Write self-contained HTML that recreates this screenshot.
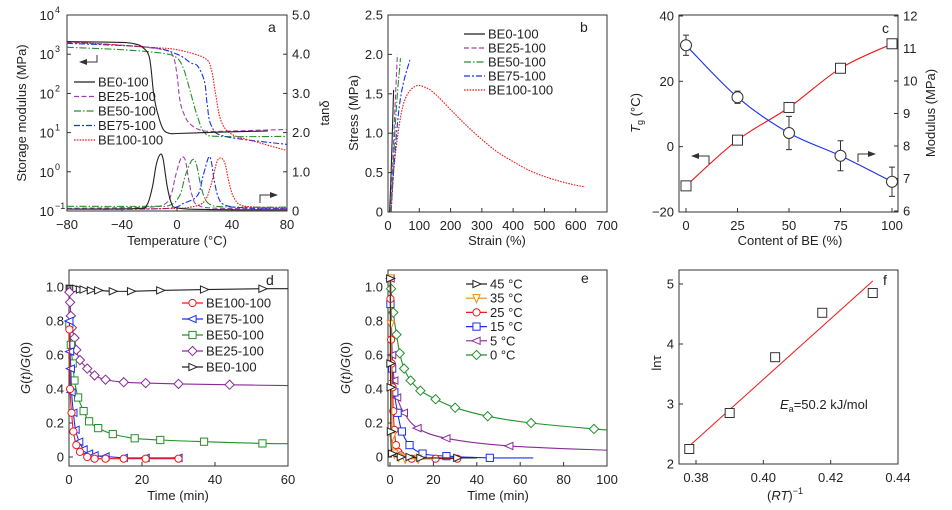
<!DOCTYPE html>
<html><head><meta charset="utf-8">
<style>
html,body{margin:0;padding:0;background:#fff;}
svg{display:block;font-family:"Liberation Sans",sans-serif;}
text{fill:#222;}
</style></head>
<body>
<svg id="fig" width="952" height="510" viewBox="0 0 952 510" xmlns="http://www.w3.org/2000/svg"></svg>
<script>
// ---------- Panel a data ----------
const aTemps = [-80,-40,-30,-25,-20,-17,-14,-10,-5,0,20,40,66];
const aBE0 = [2100,2000,1800,1500,800,100,30,12,9.5,9.5,10,10.5,11];
const aBE25T = [-80,-40,-10,-3,0,2,5,10,20,40,60,80];
const aBE25 = [2000,1700,1300,900,300,70,30,16,11,11,11.5,12];
const aBE50T = [-80,-40,-10,0,5,10,15,20,30,80];
const aBE50 = [1500,1300,1050,800,400,100,25,10,8,8];
const aBE75T = [-80,-20,0,10,15,20,22,25,35,80];
const aBE75 = [1900,1500,1000,600,500,200,50,15,8,5];
const aBE100T = [-80,-20,0,20,25,28,32,40,60,80];
const aBE100 = [2100,1500,1300,800,400,100,20,9,5.5,3.5];
const tanBE0T = [-80,-30,-22,-18,-15,-12,-10,-7,-4,0,20,80];
const tanBE0 = [0.05,0.06,0.15,0.6,1.2,1.45,1.3,0.6,0.2,0.08,0.04,0.03];
const tanBE25T = [-80,-20,-8,-4,-1,3,6,8,11,15,30,80];
const tanBE25 = [0.07,0.1,0.2,0.45,0.9,1.35,1.3,0.9,0.4,0.15,0.07,0.06];
const tanBE50T = [-80,-20,-5,2,6,11,14,17,20,25,40,80];
const tanBE50 = [0.12,0.12,0.15,0.4,0.9,1.3,1.2,0.7,0.35,0.15,0.1,0.1];
const tanBE75T = [-80,-10,5,15,19,23,25,27,30,35,50,80];
const tanBE75 = [0.05,0.06,0.2,0.4,0.9,1.37,1.25,0.8,0.35,0.15,0.08,0.07];
const tanBE100T = [-80,-10,10,20,25,29,32,35,38,42,50,80];
const tanBE100 = [0.05,0.06,0.1,0.25,0.7,1.25,1.35,1.2,0.7,0.3,0.12,0.08];
// ---------- Panel b data ----------
const bBE0S = [5,10,18]; const bBE0 = [0,0.5,1.55];
const bBE25S = [8,15,22,30]; const bBE25 = [0,0.6,1.3,2.0];
const bBE50S = [10,18,28,40]; const bBE50 = [0,0.7,1.4,1.95];
const bBE75S = [10,20,35,50,70]; const bBE75 = [0,0.65,1.3,1.65,1.93];
const bBE100S = [10,20,40,60,90,120,150,200,250,300,350,400,450,500,550,600,630];
const bBE100 = [0,0.6,1.2,1.48,1.6,1.58,1.5,1.3,1.1,0.92,0.76,0.64,0.53,0.45,0.39,0.34,0.32];
// ---------- Panel c data ----------
const cContent = [0,25,50,75,100];
const cTg = [-12,2,12,24,31.5];
const cModulus = [11.1,9.5,8.4,7.7,6.9];
const cModErr = [0.31,0.19,0.51,0.46,0.45];
// ---------- Panel d data ----------
const dBE0T = [0.2,0.5,1,1.5,2,3,4,6,8,12,17,25,37,53];
const dBE0 = [0.99,0.99,0.99,0.99,0.99,0.985,0.985,0.98,0.98,0.975,0.975,0.98,0.985,0.99];
const dBE25T = [0.1,0.3,0.5,0.8,1.5,2,3,5,7,10,15,21,30,44];
const dBE25 = [0.97,0.91,0.83,0.76,0.70,0.63,0.57,0.52,0.48,0.455,0.44,0.435,0.43,0.425];
const dBE50T = [0.1,0.5,1,1.5,2.5,4,5.5,8,12,18,25,37,53];
const dBE50 = [0.78,0.66,0.55,0.45,0.35,0.27,0.21,0.17,0.135,0.11,0.1,0.09,0.08];
const dBE75T = [0.1,0.3,0.5,0.7,1.2,1.8,2.8,4,5.5,7,10,15,21,30];
const dBE75 = [0.8,0.62,0.52,0.38,0.26,0.16,0.09,0.045,0.02,0.01,0.003,-0.005,-0.005,-0.005];
const dBE100T = [0.1,0.3,0.7,1.2,2,3,5,7,10,15,21,30];
const dBE100 = [0.75,0.4,0.26,0.15,0.07,0.03,0,-0.01,-0.01,-0.01,-0.01,-0.01];
// ---------- Panel e data ----------
const e0T = [0.5,1.5,3,4.5,6.5,9.5,14,21,30,45,65,94];
const e0 = [0.99,0.85,0.72,0.61,0.52,0.45,0.39,0.34,0.29,0.24,0.2,0.165];
const e5T = [0.3,1,2,3.3,6.4,12.7,26,55];
const e5 = [1.05,0.6,0.45,0.35,0.26,0.17,0.11,0.065];
const e15T = [0.2,1,2,3.5,5.5,9,15,26,46];
const e15 = [0.9,0.52,0.38,0.26,0.15,0.07,0.02,0.005,-0.005];
const e25T = [0.2,0.5,0.8,1.2,1.5,2,2.8,3.8,5,10,21,31];
const e25 = [0.93,0.69,0.55,0.41,0.27,0.16,0.07,0.03,0.01,-0.01,-0.01,-0.01];
const e35T = [0.2,0.4,1,2,4,7,13];
const e35 = [1.05,0.78,0.12,0.02,0,-0.01,-0.01];
const e45T = [0.1,0.2,0.3,0.4,1,5,9,14,31];
const e45 = [1.05,0.55,0.41,0.15,0.02,0,0,-0.005,-0.005];
// ---------- Panel f data ----------
const fX = [0.378,0.390,0.4035,0.4175,0.4325];
const fY = [2.25,2.85,3.78,4.52,4.85];
const fFitX = [0.378,0.4325];
const fFitY = [2.3,5.05];

const NS = "http://www.w3.org/2000/svg";
const svg = document.getElementById('fig');
function mk(tag, attrs, parent){
  const e = document.createElementNS(NS, tag);
  for (const k in attrs) e.setAttribute(k, attrs[k]);
  (parent||svg).appendChild(e);
  return e;
}
function smooth(pts){
  if (pts.length < 3) return 'M' + pts.map(p=>p[0].toFixed(1)+','+p[1].toFixed(1)).join(' L');
  let d = 'M'+pts[0][0].toFixed(1)+','+pts[0][1].toFixed(1);
  for (let i=0;i<pts.length-1;i++){
    const p0=pts[Math.max(0,i-1)], p1=pts[i], p2=pts[i+1], p3=pts[Math.min(pts.length-1,i+2)];
    const c1=[p1[0]+(p2[0]-p0[0])/6, p1[1]+(p2[1]-p0[1])/6];
    const c2=[p2[0]-(p3[0]-p1[0])/6, p2[1]-(p3[1]-p1[1])/6];
    d+=' C'+c1[0].toFixed(1)+','+c1[1].toFixed(1)+' '+c2[0].toFixed(1)+','+c2[1].toFixed(1)+' '+p2[0].toFixed(1)+','+p2[1].toFixed(1);
  }
  return d;
}
function txt(x,y,s,opts,name){
  const t = mk('text', Object.assign({x:x,y:y,'font-size':13},opts||{}));
  t.textContent = s;
  
  
  return t;
}
function frame(x0,y0,x1,y1,name){
  const r = mk('rect',{x:x0,y:y0,width:x1-x0,height:y1-y0,fill:'none',stroke:'#333','stroke-width':1});
  
  
}
function xTicks(vals, fx, yb, labels){
  vals.forEach((v,i)=>{
    const x=fx(v);
    const l = mk('line',{x1:x,x2:x,y1:yb,y2:yb-4,stroke:'#333'});
    
    
    txt(x, yb+18, labels[i], {'text-anchor':'middle'}, 'x-tick-label');
  });
}
function yTicks(vals, fy, xl, labels, right){
  vals.forEach((v,i)=>{
    const y=fy(v);
    const l = mk('line',{x1:xl,x2:right?xl-4:xl+4,y1:y,y2:y,stroke:'#333'});
    
    
    txt(right?xl+5:xl-5, y+4.5, labels[i], {'text-anchor':right?'start':'end'}, 'y-tick-label');
  });
}
function series(xs, ys, fx, fy, color, dash, name){
  const pts = xs.map((x,i)=>[fx(x), fy(ys[i])]);
  const p = mk('path',{d:smooth(pts),fill:'none',stroke:color,'stroke-width':1.1,'stroke-dasharray':dash||'none'});
  
  
  return pts;
}
function marker(shape,x,y,color,g){
  const s=3.6; let m;
  if (shape==='circle') m=mk('circle',{cx:x,cy:y,r:s,fill:'#fff',stroke:color,'stroke-width':1},g);
  else if (shape==='square') m=mk('rect',{x:x-s,y:y-s,width:2*s,height:2*s,fill:'#fff',stroke:color,'stroke-width':1},g);
  else if (shape==='diamond') m=mk('polygon',{points:`${x},${y-s-1} ${x+s+1},${y} ${x},${y+s+1} ${x-s-1},${y}`,fill:'#fff',stroke:color,'stroke-width':1},g);
  else if (shape==='right') m=mk('polygon',{points:`${x-s},${y-s} ${x+s+1},${y} ${x-s},${y+s}`,fill:'#fff',stroke:color,'stroke-width':1},g);
  else if (shape==='left') m=mk('polygon',{points:`${x+s},${y-s} ${x-s-1},${y} ${x+s},${y+s}`,fill:'#fff',stroke:color,'stroke-width':1},g);
  else m=mk('polygon',{points:`${x-s},${y-s} ${x+s},${y-s} ${x},${y+s+1}`,fill:'#fff',stroke:color,'stroke-width':1},g);
  
  
}
function legendLine(x,y,color,dash,label,shape){
  const l=mk('line',{x1:x,x2:x+21,y1:y,y2:y,stroke:color,'stroke-width':1.2,'stroke-dasharray':dash||'none'});
  
  
  if (shape) marker(shape,x+10.5,y,color);
  txt(x+24,y+4.5,label,{},'legend-entry');
}
function arrow(pts,tip,dir){
  const p=mk('polyline',{points:pts.map(q=>q.join(',')).join(' '),fill:'none',stroke:'#333','stroke-width':1});
  
  
  const [x,y]=tip; const d=dir;
  const h=mk('polygon',{points:`${x},${y} ${x-8*d},${y-3} ${x-8*d},${y+3}`,fill:'#333'});
  
  
}
function gLabel(x,y){
  const t=txt(0,0,'',{'text-anchor':'middle',transform:`translate(${x},${y}) rotate(-90)`},'y-axis-title');
  const a=mk('tspan',{'font-style':'italic'},t); a.textContent='G';
  const b=mk('tspan',{},t); b.textContent='(';
  const c=mk('tspan',{'font-style':'italic'},t); c.textContent='t';
  const d=mk('tspan',{},t); d.textContent=')/';
  const e=mk('tspan',{'font-style':'italic'},t); e.textContent='G';
  const f=mk('tspan',{},t); f.textContent='(0)';
}
const COLORS={BE0:'#222',BE25:'#a040b0',BE50:'#22912a',BE75:'#1a30f0',BE100:'#f01818'};
const DASH={BE0:'none',BE25:'5,2.5',BE50:'7,2,1.5,2',BE75:'6,2,2,2',BE100:'1.6,1.2'};

// ===== Panel a =====
(function(){
  const ax=t=>67+(t+80)*220/160;
  const ay=v=>211-(Math.log10(v)+1)*39.2;
  const ty=v=>211-v*39.2;
  frame(67,15,287,211,'panel-a-frame');
  xTicks([-80,-40,0,40,80],ax,211,['\u221280','\u221240','0','40','80']);
  [-1,0,1,2,3,4].forEach(e=>{
    const y=ay(Math.pow(10,e));
    const l=mk('line',{x1:67,x2:71,y1:y,y2:y,stroke:'#333'});
    
    
    txt(54,y+5,'10',{'text-anchor':'end'},'y-tick-label');
    txt(55,y-2,e<0?'\u22121':String(e),{'font-size':9},'y-tick-exponent');
  });
  yTicks([0,1,2,3,4,5],ty,287,['0','1.0','2.0','3.0','4.0','5.0'],true);
  txt(177,245,'Temperature (\u00B0C)',{'text-anchor':'middle'},'x-axis-title');
  txt(0,0,'Storage modulus (MPa)',{'text-anchor':'middle',transform:'translate(26,113) rotate(-90)'},'y-axis-title');
  txt(0,0,'tan\u03B4',{'text-anchor':'middle',transform:'translate(329,113) rotate(-90)'},'y2-axis-title');
  txt(268,32,'a',{'font-size':14},'panel-label-a');
  series(aBE25T,aBE25,ax,ay,COLORS.BE25,DASH.BE25,'storage-be25');
  series(aBE50T,aBE50,ax,ay,COLORS.BE50,DASH.BE50,'storage-be50');
  series(aBE75T,aBE75,ax,ay,COLORS.BE75,DASH.BE75,'storage-be75');
  series(aBE100T,aBE100,ax,ay,COLORS.BE100,DASH.BE100,'storage-be100');
  series(aTemps,aBE0,ax,ay,COLORS.BE0,DASH.BE0,'storage-be0');
  series(tanBE25T,tanBE25,ax,ty,COLORS.BE25,DASH.BE25,'tan-be25');
  series(tanBE50T,tanBE50,ax,ty,COLORS.BE50,DASH.BE50,'tan-be50');
  series(tanBE75T,tanBE75,ax,ty,COLORS.BE75,DASH.BE75,'tan-be75');
  series(tanBE100T,tanBE100,ax,ty,COLORS.BE100,DASH.BE100,'tan-be100');
  series(tanBE0T,tanBE0,ax,ty,COLORS.BE0,DASH.BE0,'tan-be0');
  const names=['BE0-100','BE25-100','BE50-100','BE75-100','BE100-100'];
  ['BE0','BE25','BE50','BE75','BE100'].forEach((k,i)=>legendLine(74,82+i*14.5,COLORS[k],DASH[k],names[i]));
  arrow([[97,55],[97,62],[80,62]],[79,62],-1);
  arrow([[260,203],[260,195],[276,195]],[278,195],1);
})();

// ===== Panel b =====
(function(){
  const bx=s=>388+s*219/700;
  const by=v=>212-v*78.8;
  frame(388,15,607,212,'panel-b-frame');
  xTicks([0,100,200,300,400,500,600,700],bx,212,['0','100','200','300','400','500','600','700']);
  yTicks([0,0.5,1,1.5,2,2.5],by,388,['0','0.5','1.0','1.5','2.0','2.5']);
  txt(497,245,'Strain (%)',{'text-anchor':'middle'},'x-axis-title');
  txt(0,0,'Stress (MPa)',{'text-anchor':'middle',transform:'translate(358,113) rotate(-90)'},'y-axis-title');
  txt(580,32,'b',{'font-size':14},'panel-label-b');
  series(bBE100S,bBE100,bx,by,COLORS.BE100,DASH.BE100,'stress-be100');
  series(bBE75S,bBE75,bx,by,COLORS.BE75,DASH.BE75,'stress-be75');
  series(bBE50S,bBE50,bx,by,COLORS.BE50,DASH.BE50,'stress-be50');
  series(bBE25S,bBE25,bx,by,COLORS.BE25,DASH.BE25,'stress-be25');
  series(bBE0S,bBE0,bx,by,COLORS.BE0,DASH.BE0,'stress-be0');
  const names=['BE0-100','BE25-100','BE50-100','BE75-100','BE100-100'];
  ['BE0','BE25','BE50','BE75','BE100'].forEach((k,i)=>legendLine(464,34+i*14,COLORS[k],DASH[k],names[i]));
})();

// ===== Panel c =====
(function(){
  const cx=v=>686+v*2.06;
  const cy=v=>212-(v+20)*196/60;
  const my=v=>211-(v-6)*195/6;
  frame(679,15,898,212,'panel-c-frame');
  xTicks([0,25,50,75,100],cx,212,['0','25','50','75','100']);
  yTicks([-20,0,20,40],cy,679,['\u221220','0','20','40']);
  yTicks([6,7,8,9,10,11,12],my,898,['6','7','8','9','10','11','12'],true);
  txt(790,245,'Content of BE (%)',{'text-anchor':'middle'},'x-axis-title');
  const t=txt(0,0,'',{'text-anchor':'middle',transform:'translate(640,113) rotate(-90)'},'y-axis-title');
  const t1=mk('tspan',{'font-style':'italic'},t); t1.textContent='T';
  const t2=mk('tspan',{'font-size':9,dy:3},t); t2.textContent='g';
  const t3=mk('tspan',{dy:-3},t); t3.textContent=' (\u00B0C)';
  txt(0,0,'Modulus (MPa)',{'text-anchor':'middle',transform:'translate(935,113) rotate(-90)'},'y2-axis-title');
  txt(882,33,'c',{'font-size':14},'panel-label-c');
  series(cContent,cTg,cx,cy,'#f01818','none','tg-curve');
  series(cContent,cModulus,cx,my,'#1a30f0','none','modulus-curve');
  cContent.forEach((c,i)=>{
    const x=cx(c), y1=my(cModulus[i]+cModErr[i]), y2=my(cModulus[i]-cModErr[i]);
    const e=mk('path',{d:`M${x},${y1} V${y2} M${x-3},${y1} H${x+3} M${x-3},${y2} H${x+3}`,stroke:'#333',fill:'none'});
    
    
  });
  cContent.forEach((c,i)=>{
    const m=mk('rect',{x:cx(c)-5,y:cy(cTg[i])-5,width:10,height:10,fill:'#fff',stroke:'#333'});
    
    
    const o=mk('circle',{cx:cx(c),cy:my(cModulus[i]),r:5.5,fill:'#fff',stroke:'#333'});
    
    
  });
  arrow([[709,164],[709,156],[693,156]],[691,156],-1);
  arrow([[858,162],[858,154],[874,154]],[876,154],1);
})();

// ===== Panel d =====
(function(){
  const dx=t=>69+t*219/60;
  const dy=v=>457-v*170;
  frame(69,270,288,466,'panel-d-frame');
  xTicks([0,20,40,60],dx,466,['0','20','40','60']);
  yTicks([0,0.2,0.4,0.6,0.8,1.0],dy,69,['0','0.2','0.4','0.6','0.8','1.0']);
  txt(178,500,'Time (min)',{'text-anchor':'middle'},'x-axis-title');
  gLabel(30,368);
  txt(266,285,'d',{'font-size':14},'panel-label-d');
  const S=[[dBE0T,dBE0,'#222','right','BE0',60,0.99],[dBE25T,dBE25,'#8a2a9a','diamond','BE25',60,0.42],[dBE50T,dBE50,'#22912a','square','BE50',60,0.078],[dBE75T,dBE75,'#1a30f0','left','BE75',null],[dBE100T,dBE100,'#f01818','circle','BE100',null]];
  S.forEach(s=>{
    const xs=s[0].slice(), ys=s[1].slice();
    if (s[5]!==null){xs.push(s[5]);ys.push(s[6]);}
    series(xs,ys,dx,dy,s[2],'none','relax-'+s[4].toLowerCase());
    s[0].forEach((t,i)=>marker(s[3],dx(t),dy(s[1][i]),s[2]));
  });
  const L=[['BE100-100','#f01818','circle'],['BE75-100','#1a30f0','left'],['BE50-100','#22912a','square'],['BE25-100','#8a2a9a','diamond'],['BE0-100','#222','right']];
  L.forEach((l,i)=>legendLine(182,303+i*16,l[1],'none',l[0],l[2]));
})();

// ===== Panel e =====
(function(){
  const ex=t=>390+t*2.17;
  const ey=v=>457-v*170;
  frame(388,270,607,466,'panel-e-frame');
  xTicks([0,20,40,60,80,100],ex,466,['0','20','40','60','80','100']);
  yTicks([0,0.2,0.4,0.6,0.8,1.0],ey,388,['0','0.2','0.4','0.6','0.8','1.0']);
  txt(498,500,'Time (min)',{'text-anchor':'middle'},'x-axis-title');
  gLabel(350,368);
  txt(581,283,'e',{'font-size':14},'panel-label-e');
  const S=[[e0T,e0,'#22912a','diamond','0c',100,0.16],[e5T,e5,'#8a2a9a','left','5c',100,0.04],[e15T,e15,'#1a30f0','square','15c',66,-0.005],[e25T,e25,'#f01818','circle','25c',null],[e35T,e35,'#f08a10','down','35c',20,-0.01],[e45T,e45,'#222','right','45c',40,-0.005]];
  S.forEach(s=>{
    const xs=s[0].slice(), ys=s[1].slice();
    if (s[5]!==null){xs.push(s[5]);ys.push(s[6]);}
    series(xs,ys,ex,ey,s[2],'none','relax-'+s[4]);
    s[0].forEach((t,i)=>marker(s[3],ex(t),ey(s[1][i]),s[2]));
  });
  const L=[['45 \u00B0C','#222','right'],['35 \u00B0C','#f08a10','down'],['25 \u00B0C','#f01818','circle'],['15 \u00B0C','#1a30f0','square'],['5 \u00B0C','#8a2a9a','left'],['0 \u00B0C','#22912a','diamond']];
  L.forEach((l,i)=>legendLine(466,284+i*14.2,l[1],'none',l[0],l[2]));
})();

// ===== Panel f =====
(function(){
  const fx=v=>696+(v-0.38)*202/0.06;
  const fy=v=>464-(v-2)*60;
  frame(679,270,898,464,'panel-f-frame');
  xTicks([0.38,0.40,0.42,0.44],fx,464,['0.38','0.40','0.42','0.44']);
  yTicks([2,3,4,5],fy,679,['2','3','4','5']);
  const xl=txt(785,500,'',{'text-anchor':'middle'},'x-axis-title');
  const a=mk('tspan',{},xl); a.textContent='(';
  const b=mk('tspan',{'font-style':'italic'},xl); b.textContent='RT';
  const c=mk('tspan',{},xl); c.textContent=')';
  const d=mk('tspan',{'font-size':9,dy:-6},xl); d.textContent='\u22121';
  txt(0,0,'ln\u03C4',{'text-anchor':'middle',transform:'translate(661,363) rotate(-90)'},'y-axis-title');
  txt(883,285,'f',{'font-size':14},'panel-label-f');
  const fit=mk('line',{x1:fx(fFitX[0]),y1:fy(fFitY[0]),x2:fx(fFitX[1]),y2:fy(fFitY[1]),stroke:'#f01818','stroke-width':1});
  
  
  fX.forEach((x,i)=>{
    const m=mk('rect',{x:fx(x)-4.5,y:fy(fY[i])-4.5,width:9,height:9,fill:'#fff',stroke:'#333'});
    
    
  });
  const et=txt(780,409,'',{},'activation-energy-annotation');
  const e1=mk('tspan',{'font-style':'italic'},et); e1.textContent='E';
  const e2=mk('tspan',{'font-size':9,dy:3},et); e2.textContent='a';
  const e3=mk('tspan',{dy:-3},et); e3.textContent='=50.2 kJ/mol';
})();
</script>
</body></html>
